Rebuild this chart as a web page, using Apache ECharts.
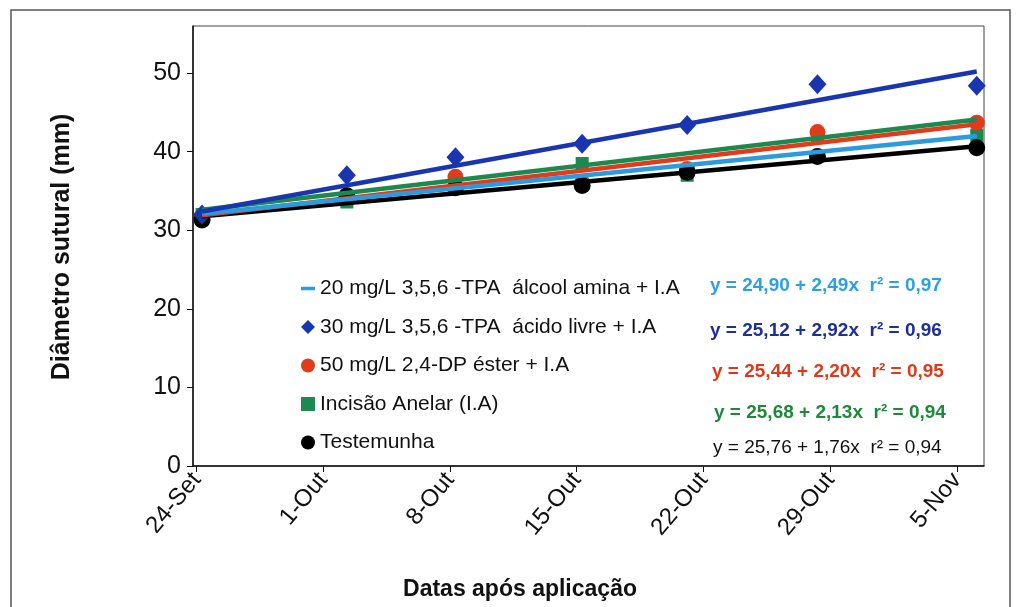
<!DOCTYPE html>
<html><head><meta charset="utf-8">
<script src="https://cdn.jsdelivr.net/npm/echarts@6/dist/echarts.min.js"></script>
<style>html,body{margin:0;padding:0;background:#fff}#c{width:1018px;height:607px}</style>
</head><body><div id="c"></div>
<script>
// ---- data ----
const categories = ['24-Set', '1-Out', '8-Out', '15-Out', '22-Out', '29-Out', '5-Nov'];
const tickDays = [0, 7, 14, 21, 28, 35, 42];           // days after 24-Set for each tick label
const sampleDays = [0.3, 8.3, 14.3, 21.3, 27.1, 34.3, 43.1];
const yTicks = [0, 10, 20, 30, 40, 50];

const seriesNames = [
  '20 mg/L 3,5,6 -TPA  álcool amina + I.A',
  '30 mg/L 3,5,6 -TPA  ácido livre + I.A',
  '50 mg/L 2,4-DP éster + I.A',
  'Incisão Anelar (I.A)',
  'Testemunha'
];
const blueVals  = [32.0, 37.0, 39.3, 41.0, 43.4, 48.6, 48.4];
const redVals   = [31.7, 34.4, 36.8, 36.1, 37.8, 42.5, 43.7];
const greenVals = [32.0, 33.6, 36.2, 38.5, 37.0, 42.0, 42.1];
const blackVals = [31.3, 34.4, 35.4, 35.7, 37.4, 39.4, 40.5];

// fitted trend lines (value at first and last sampling date), order = seriesNames
const trendStartVals = [32.1, 32.4, 31.9, 32.6, 31.8];
const trendEndVals   = [42.0, 50.2, 43.5, 44.1, 40.7];

const equations = [
  'y = 24,90 + 2,49x  r² = 0,97',
  'y = 25,12 + 2,92x  r² = 0,96',
  'y = 25,44 + 2,20x  r² = 0,95',
  'y = 25,68 + 2,13x  r² = 0,94',
  'y = 25,76 + 1,76x  r² = 0,94'
];

// ---- styling ----
const colors = ['#2b9be0', '#1a35b0', '#e03c1c', '#1c8a4e', '#000000'];
const eqColors = ['#2aa0e6', '#1f2f9a', '#e0391a', '#1d8a3a', '#111111'];
const FONT = '"Liberation Sans", Arial, sans-serif';

const pts = vals => vals.map((v, i) => [sampleDays[i], v]);
const trend = i => [[sampleDays[0], trendStartVals[i]], [sampleDays[sampleDays.length - 1], trendEndVals[i]]];

const scatterDefs = [
  { idx: 3, vals: greenVals, symbol: 'rect', size: 13 },
  { idx: 2, vals: redVals, symbol: 'circle', size: 16 },
  { idx: 4, vals: blackVals, symbol: 'circle', size: 17 },
  { idx: 1, vals: blueVals, symbol: 'diamond', size: [18, 20] }
];

const series = [];
scatterDefs.forEach(d => {
  series.push({
    name: seriesNames[d.idx], type: 'scatter', data: pts(d.vals),
    symbol: d.symbol, symbolSize: d.size, z: 2,
    itemStyle: { color: colors[d.idx], opacity: 1 }
  });
});
// trend lines, drawn over the markers
[4, 2, 0, 3, 1].forEach(i => {
  series.push({
    name: i === 0 ? seriesNames[0] : 'trend ' + i,
    type: 'line', data: trend(i), showSymbol: false, symbol: 'none', z: 3,
    lineStyle: { color: colors[i], width: 4.5 },
    itemStyle: { color: colors[i] }
  });
});

const eqY = [286, 331, 372, 413, 448];
const eqX = [710, 710, 712, 714, 713];
const graphics = [
  { type: 'rect', shape: { x: 11, y: 10, width: 999, height: 640 },
    style: { fill: 'none', stroke: '#555', lineWidth: 1.5 }, silent: true },
  { type: 'text', x: 62, y: 247, rotation: Math.PI / 2,
    style: { text: 'Diâmetro sutural (mm)', font: 'bold 25px ' + FONT, fill: '#111',
             align: 'center', verticalAlign: 'middle' } },
  { type: 'text', x: 520, y: 590,
    style: { text: 'Datas após aplicação', font: 'bold 23px ' + FONT, fill: '#111',
             align: 'center', verticalAlign: 'middle' } }
];
equations.forEach((t, i) => {
  graphics.push({ type: 'text', x: eqX[i], y: eqY[i], z: 10,
    style: { text: t, font: (i < 4 ? 'bold ' : '') + '19px ' + FONT, fill: eqColors[i],
             align: 'left', verticalAlign: 'middle' } });
});

const legendIcons = ['path://M0,0h16v4h-16z', 'diamond', 'circle', 'rect', 'circle'];

const chart = echarts.init(document.getElementById('c'), null, { renderer: 'canvas' });
chart.setOption({
  animation: false,
  backgroundColor: '#fff',
  grid: { left: 193, right: 34, top: 26, bottom: 141, show: true, borderColor: '#444', borderWidth: 1 },
  xAxis: {
    type: 'value', min: -0.2, max: 43.5,
    splitLine: { show: false },
    axisLine: { onZero: false, lineStyle: { color: '#111', width: 1.5 } },
    axisTick: { show: true, length: 6, customValues: tickDays, lineStyle: { color: '#111' } },
    axisLabel: {
      customValues: tickDays, rotate: 50, fontSize: 24, fontFamily: FONT, color: '#111', margin: 10,
      formatter: v => categories[tickDays.indexOf(Math.round(v))] || ''
    }
  },
  yAxis: {
    type: 'value', min: 0, max: 56,
    splitLine: { show: false },
    axisLine: { show: true, onZero: false, lineStyle: { color: '#111', width: 1.5 } },
    axisTick: { show: true, length: 6, customValues: yTicks, lineStyle: { color: '#111' } },
    axisLabel: { customValues: yTicks, fontSize: 25, fontFamily: FONT, color: '#111', margin: 12 }
  },
  legend: {
    orient: 'vertical', left: 296, top: 273, itemGap: 17.5, itemWidth: 14, itemHeight: 14,
    data: seriesNames.map((n, i) => ({ name: n, icon: legendIcons[i] })),
    textStyle: { fontSize: 21, fontFamily: FONT, color: '#111', lineHeight: 20 },
    selectedMode: false
  },
  series: series,
  graphic: graphics
});
</script>
</body></html>
